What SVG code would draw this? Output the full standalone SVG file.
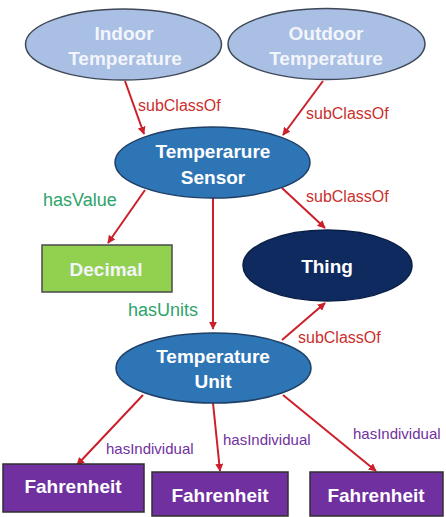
<svg xmlns="http://www.w3.org/2000/svg" width="446" height="517" viewBox="0 0 446 517">
<defs>
<marker id="arr" viewBox="0 0 10 10" refX="9" refY="5" markerWidth="4" markerHeight="4" orient="auto" markerUnits="strokeWidth">
<path d="M0,0 L10,5 L0,10 Z" fill="#cc1f2a"/>
</marker>
</defs>
<style>
.n{font-family:"Liberation Sans",Arial,sans-serif;font-weight:bold;font-size:19px;text-anchor:middle;fill:#ffffff}
.lt{fill:#f2f5fb}
.e{stroke-width:1.5}
.c line{stroke:#cc1f2a;stroke-width:2;marker-end:url(#arr)}
.l{font-family:"Liberation Sans",Arial,sans-serif}
.r{fill:#c9302c;font-size:16px}
.g{fill:#2ea36a;font-size:18px}
.p{fill:#7030a0;font-size:15px}
</style>
<rect width="446" height="517" fill="#ffffff"/>
<g id="connectors" class="c">
<line x1="125" y1="81" x2="144" y2="134"/>
<line x1="323" y1="81" x2="283" y2="135"/>
<line x1="145" y1="190" x2="108" y2="243"/>
<line x1="282" y1="188" x2="325" y2="228"/>
<line x1="213" y1="198" x2="213" y2="329"/>
<line x1="282" y1="340" x2="325" y2="303"/>
<line x1="143" y1="395" x2="77" y2="465"/>
<line x1="213" y1="403" x2="220" y2="471"/>
<line x1="283" y1="395" x2="376" y2="471"/>
</g>
<g id="labels" class="l">
<text class="r" x="138" y="111">subClassOf</text>
<text class="r" x="306" y="119">subClassOf</text>
<text class="g" x="43" y="206">hasValue</text>
<text class="r" x="306" y="202">subClassOf</text>
<text class="g" x="128" y="316">hasUnits</text>
<text class="r" x="298" y="343">subClassOf</text>
<text class="p" x="106" y="454">hasIndividual</text>
<text class="p" x="223" y="445">hasIndividual</text>
<text class="p" x="353" y="439">hasIndividual</text>
</g>
<g id="indoor">
<ellipse class="e" cx="123.5" cy="44.5" rx="98" ry="35.5" fill="#a9bfe3" stroke="#3f4858"/>
<text class="n lt" x="124" y="40">Indoor</text>
<text class="n lt" x="125" y="65">Temperature</text>
</g>
<g id="outdoor">
<ellipse class="e" cx="326.5" cy="44" rx="98.5" ry="35.5" fill="#a9bfe3" stroke="#3f4858"/>
<text class="n lt" x="326" y="40">Outdoor</text>
<text class="n lt" x="326" y="65">Temperature</text>
</g>
<g id="sensor">
<ellipse class="e" cx="212.5" cy="162.5" rx="97.5" ry="35.5" fill="#2e75b6" stroke="#1f3f66"/>
<text class="n" x="213" y="158">Temperarure</text>
<text class="n" x="213" y="184">Sensor</text>
</g>
<g id="decimal">
<rect class="e" x="42" y="245" width="130" height="47" fill="#92d050" stroke="#4a4a4a"/>
<text class="n lt" x="106" y="276">Decimal</text>
</g>
<g id="thing">
<ellipse class="e" cx="327.5" cy="265.5" rx="84.5" ry="35.5" fill="#0e2a5e" stroke="#0a1f45"/>
<text class="n" x="327" y="273">Thing</text>
</g>
<g id="unit">
<ellipse class="e" cx="213.5" cy="368" rx="97.5" ry="35" fill="#2e75b6" stroke="#1f3f66"/>
<text class="n" x="213" y="363">Temperature</text>
<text class="n" x="213" y="388">Unit</text>
</g>
<g id="f1">
<rect class="e" x="3" y="464" width="141" height="48" fill="#7030a0" stroke="#2f2f2f"/>
<text class="n" x="73" y="493">Fahrenheit</text>
</g>
<g id="f2">
<rect class="e" x="152" y="472" width="136" height="44" fill="#7030a0" stroke="#2f2f2f"/>
<text class="n" x="220" y="502">Fahrenheit</text>
</g>
<g id="f3">
<rect class="e" x="310" y="472" width="133" height="44" fill="#7030a0" stroke="#2f2f2f"/>
<text class="n" x="376" y="502">Fahrenheit</text>
</g>
</svg>
